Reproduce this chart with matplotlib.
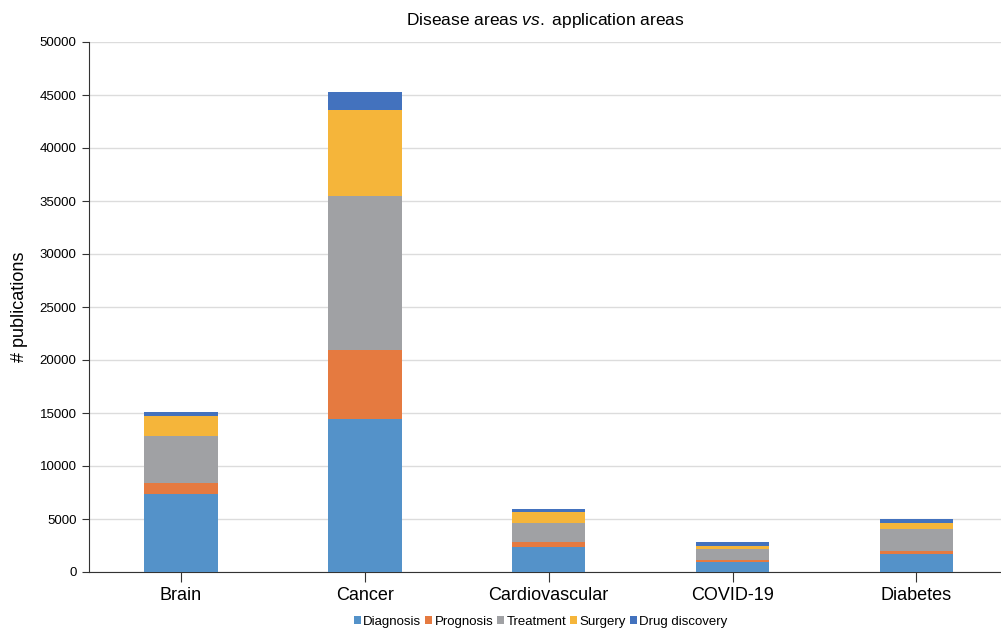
import matplotlib
matplotlib.use("Agg")
import matplotlib.pyplot as plt
import numpy as np

plt.rcParams['font.family'] = ['Liberation Sans', 'DejaVu Sans']
plt.rcParams['mathtext.fontset'] = 'custom'
plt.rcParams['mathtext.rm'] = 'Liberation Sans'
plt.rcParams['mathtext.it'] = 'Liberation Sans:italic'

categories = ["Brain", "Cancer", "Cardiovascular", "COVID-19", "Diabetes"]
series_names = ["Diagnosis", "Prognosis", "Treatment", "Surgery", "Drug discovery"]
diagnosis = [7330, 14430, 2360, 940, 1730]
prognosis = [1070, 6510, 500, 220, 250]
treatment = [4460, 14500, 1790, 1040, 2100]
surgery = [1890, 8170, 1040, 280, 570]
drug_discovery = [370, 1640, 230, 320, 320]
colors = ["#5492C9", "#E57A40", "#A0A1A4", "#F5B53A", "#4372BE"]
yticks = list(range(0, 50001, 5000))

fig = plt.figure(figsize=(10.01, 6.33), dpi=100)
ax = fig.add_axes([89/1001, 1 - 572/633, (1001 - 89)/1001, (572 - 42)/633])

x = np.arange(len(categories))
bottom = np.zeros(len(categories))
for name, vals, c in zip(series_names, [diagnosis, prognosis, treatment, surgery, drug_discovery], colors):
    ax.bar(x, vals, width=0.4, bottom=bottom, color=c, label=name, zorder=3)
    bottom += np.array(vals)

ax.set_xlim(-0.5, 4.46)
ax.set_ylim(0, 50000)
ax.set_yticks(yticks)
ax.set_yticklabels([str(v) for v in yticks], fontsize=9.5)
ax.set_xticks(x)
ax.set_xticklabels(categories, fontsize=13)
ax.grid(axis='y', color='#dcdcdc', linewidth=1, zorder=0)
for s in ['top', 'right']:
    ax.spines[s].set_visible(False)
ax.spines['left'].set_color('#333333')
ax.spines['bottom'].set_color('#333333')
ax.tick_params(axis='y', length=5, color='#333333', pad=4)
ax.tick_params(axis='x', length=7, color='#333333', pad=4)
ax.set_ylabel("# publications", fontsize=13, labelpad=8)
ax.set_title(r"Disease areas $\it{vs.}$ application areas", fontsize=12.5, pad=12)

fig.legend(loc='center', bbox_to_anchor=(0.54, 1 - 622/633), ncol=5, frameon=False,
           fontsize=9.5, handlelength=0.55, handleheight=0.55, handletextpad=0.15,
           columnspacing=0.3)

fig.savefig("out.png", dpi=100)
